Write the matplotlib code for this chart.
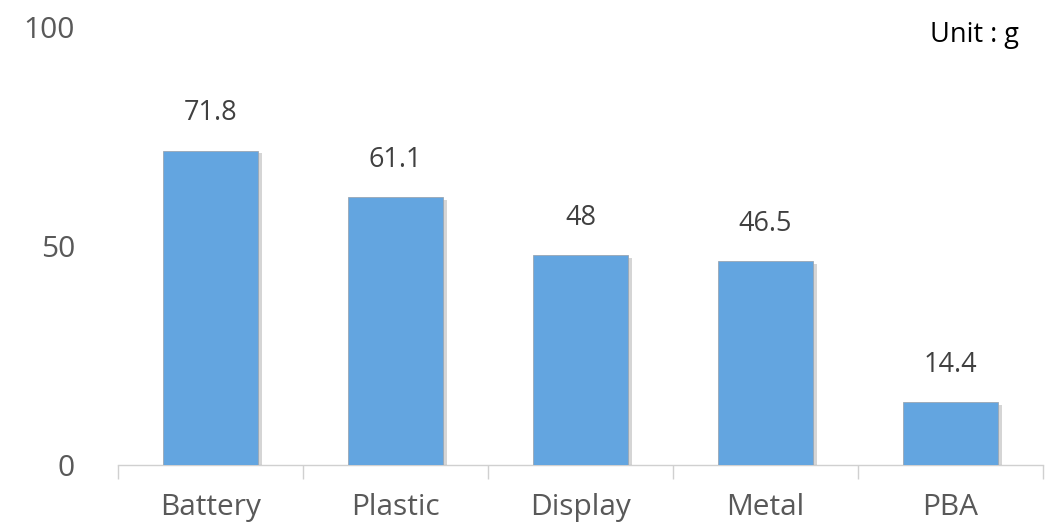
import matplotlib.pyplot as plt
import matplotlib.patheffects as pe

# data
categories = ['Battery', 'Plastic', 'Display', 'Metal', 'PBA']
weights = [71.8, 61.1, 48, 46.5, 14.4]
value_labels = ['71.8', '61.1', '48', '46.5', '14.4']

plt.rcParams['font.family'] = ['Open Sans', 'DejaVu Sans']

fig = plt.figure(figsize=(10.58, 5.31), dpi=100)
ax = fig.add_axes([0.1115, 0.1243, 0.8743, 0.8247])

x = range(len(categories))
bars = ax.bar(x, weights, width=0.51, color='#63A5E0', edgecolor='#9aa7b4', linewidth=0.6, zorder=3)
for b in bars:
    b.set_path_effects([pe.SimplePatchShadow(offset=(3, -2), shadow_rgbFace='#888888', alpha=0.35), pe.Normal()])

for i, v in enumerate(weights):
    ax.text(i, v + 8.5, value_labels[i], ha='center', va='center', fontsize=19.5, color='#404040')

ax.set_xlim(-0.5, len(categories) - 0.5)
ax.set_ylim(0, 100)
ax.set_yticks([0, 50, 100])
ax.set_yticklabels(['0', '50', '100'], fontsize=21.5, color='#595959')
ax.tick_params(axis='y', length=0, pad=31)

ax.set_xticks(list(x))
ax.set_xticklabels(categories, fontsize=21.5, color='#595959')
ax.tick_params(axis='x', length=0, pad=20)
ax.set_xticks([i - 0.5 for i in range(len(categories) + 1)], minor=True)
ax.tick_params(axis='x', which='minor', length=10, width=1, color='#d0d0d0')

for s in ['top', 'right', 'left']:
    ax.spines[s].set_visible(False)
ax.spines['bottom'].set_color('#d0d0d0')
ax.spines['bottom'].set_linewidth(1)

fig.text(0.963, 0.935, 'Unit : g', ha='right', va='center', fontsize=19.5, color='black')

fig.savefig('out.png', dpi=100)
